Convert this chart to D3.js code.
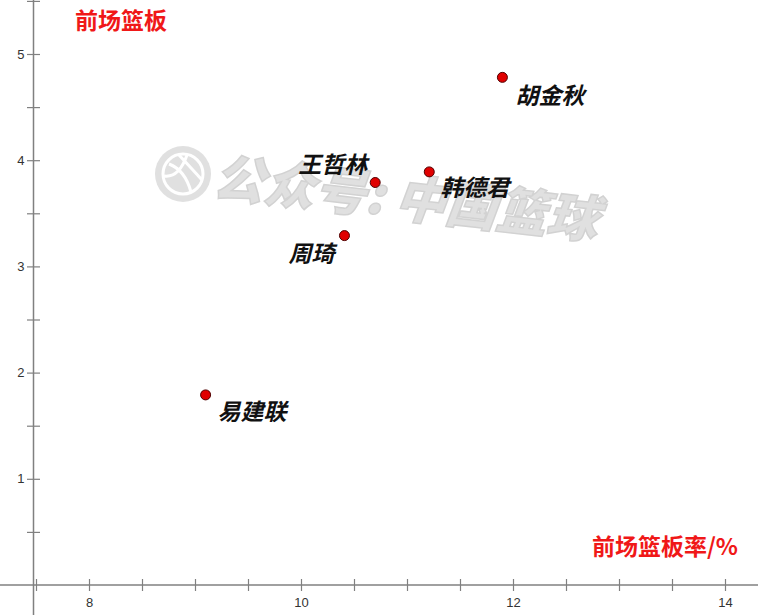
<!DOCTYPE html>
<html>
<head>
<meta charset="utf-8">
<script src="https://cdn.jsdelivr.net/npm/d3@7/dist/d3.min.js"></script>
<style>
  html, body { margin: 0; padding: 0; background: #fff; }
  svg { display: block; }
</style>
</head>
<body>
<svg id="chart" width="758" height="615"></svg>
<script>
// ---- data ----
const players = ["胡金秋", "王哲林", "韩德君", "周琦", "易建联"];
const offRebPct = [11.90, 10.70, 11.21, 10.41, 9.10];   // 前场篮板率/%
const offReb    = [4.78, 3.79, 3.89, 3.29, 1.79];       // 前场篮板
const xTickLabels = [8, 10, 12, 14];
const yTickLabels = [1, 2, 3, 4, 5];
const xTitle = "前场篮板率/%";
const yTitle = "前场篮板";
const watermark = "公众号: 中国篮球";

// ---- layout ----
const W = 758, H = 615;
const svg = d3.select("#chart");
const x = d3.scaleLinear().domain([8, 14]).range([89, 725]);
const y = d3.scaleLinear().domain([0, 5]).range([585, 54]);
const axisX0 = 33.5;   // pixel position of vertical axis
const axisY0 = y(0);

// label placement per point (dx, dy, anchor)
const labelPos = {
  "胡金秋": [13, 27, "start"],
  "王哲林": [-8, -10, "end"],
  "韩德君": [11, 24, "start"],
  "周琦":   [-10, 26, "end"],
  "易建联": [12, 25, "start"]
};

// ---- watermark ----
const wm = svg.append("g");
const ic = wm.append("g").attr("transform", "translate(183,174)");
ic.append("circle").attr("r", 28).attr("fill", "#e0e0e0");
ic.append("circle").attr("r", 20).attr("fill", "none").attr("stroke", "#fff").attr("stroke-width", 3);
ic.append("path").attr("d", "M-14,-10 Q2,-4 8,18 M-4,-19 Q10,-4 19,6 M-19,2 Q-4,4 4,-19")
  .attr("fill", "none").attr("stroke", "#fff").attr("stroke-width", 3);
wm.append("text")
  .attr("transform", "translate(404,217) rotate(6.5)")
  .attr("text-anchor", "middle")
  .attr("font-family", "Noto Sans CJK SC")
  .attr("font-weight", 900)
  .attr("font-style", "italic")
  .attr("font-size", 51)
  .attr("fill", "#e0e0e0")
  .attr("stroke", "#d2d2d2")
  .attr("stroke-width", 1.5)
  .text(watermark);

// ---- axes lines ----
const axisColor = "#808080";
svg.append("line").attr("x1", 0).attr("x2", W).attr("y1", axisY0).attr("y2", axisY0)
  .attr("stroke", axisColor).attr("stroke-width", 1.5);
svg.append("line").attr("x1", axisX0).attr("x2", axisX0).attr("y1", 0).attr("y2", H)
  .attr("stroke", axisColor).attr("stroke-width", 1.5);

// x ticks (every 0.5)
const xTickVals = d3.range(7.5, 14.01, 0.5);
const gx = svg.append("g").attr("transform", `translate(0,${axisY0})`)
  .call(d3.axisBottom(x).tickValues(xTickVals).tickSize(6)
        .tickFormat(d => xTickLabels.includes(d) ? d : ""));
gx.select(".domain").remove();
gx.selectAll(".tick line").attr("y1", -6).attr("y2", 6).attr("stroke", axisColor).attr("stroke-width", 1.2);
gx.selectAll(".tick text").attr("y", 13).attr("dy", "0.71em")
  .attr("font-family", "Liberation Sans, Arial, sans-serif").attr("font-size", 13).attr("fill", "#333");

// y ticks (every 0.5)
const yTickVals = d3.range(0.5, 5.51, 0.5);
const gy = svg.append("g").attr("transform", `translate(${axisX0},0)`)
  .call(d3.axisLeft(y).tickValues(yTickVals).tickSize(6)
        .tickFormat(d => yTickLabels.includes(d) ? d : ""));
gy.select(".domain").remove();
gy.selectAll(".tick line").attr("x1", -6.5).attr("x2", 6.5).attr("stroke", axisColor).attr("stroke-width", 1.2);
gy.selectAll(".tick text").attr("x", -9)
  .attr("font-family", "Liberation Sans, Arial, sans-serif").attr("font-size", 13).attr("fill", "#333");

// ---- titles ----
svg.append("text").attr("x", 75).attr("y", 29)
  .attr("font-family", "Noto Sans CJK SC").attr("font-weight", 700).attr("font-size", 23)
  .attr("fill", "#f01818").text(yTitle);
svg.append("text").attr("x", 738).attr("y", 555).attr("text-anchor", "end")
  .attr("font-family", "Noto Sans CJK SC").attr("font-weight", 700).attr("font-size", 23)
  .attr("fill", "#f01818").text(xTitle);

// ---- points ----
const data = players.map((p, i) => ({ name: p, x: offRebPct[i], y: offReb[i] }));
svg.append("g").selectAll("circle").data(data).join("circle")
  .attr("cx", d => x(d.x)).attr("cy", d => y(d.y)).attr("r", 5)
  .attr("fill", "#e00000").attr("stroke", "#500000").attr("stroke-width", 1);

// ---- labels ----
svg.append("g").selectAll("text").data(data).join("text")
  .attr("x", d => x(d.x) + labelPos[d.name][0])
  .attr("y", d => y(d.y) + labelPos[d.name][1])
  .attr("text-anchor", d => labelPos[d.name][2])
  .attr("font-family", "Noto Sans CJK SC")
  .attr("font-weight", 700)
  .attr("font-style", "italic")
  .attr("font-size", 23)
  .attr("fill", "#111")
  .text(d => d.name);
</script>
</body>
</html>
